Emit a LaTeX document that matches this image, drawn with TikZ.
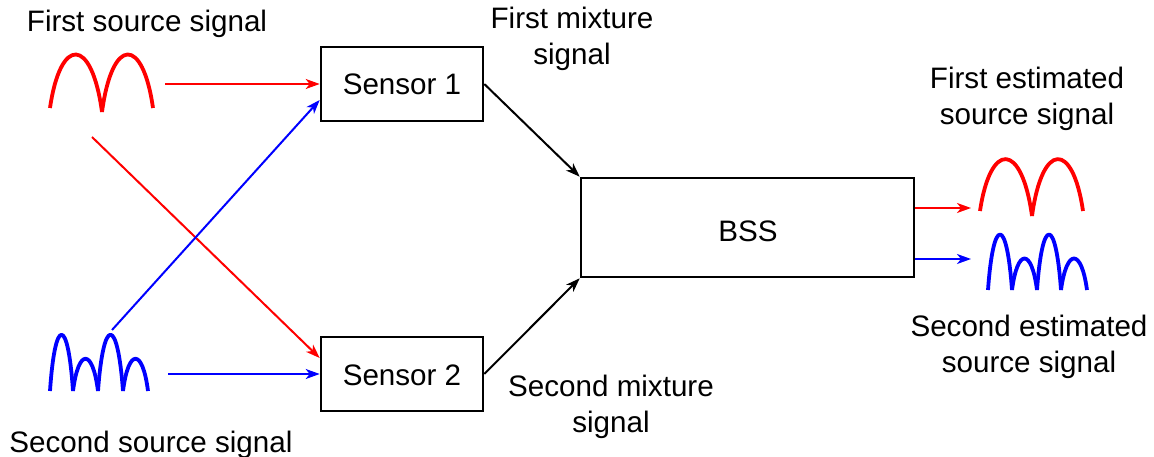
\documentclass[tikz,border=0pt]{standalone}
\usepackage{fontspec}
\setmainfont{Liberation Sans}
\usetikzlibrary{arrows.meta,positioning,calc}

\tikzset{
  block/.style={draw, line width=2.6pt, minimum width=162pt, inner sep=0pt},
  lbl/.style={font=\fontsize{29.6}{36}\selectfont, inner sep=0pt, align=center},
  sig/.style={line width=3.8pt, line join=round},
  flow/.style={->, line width=2pt},
}

\begin{document}
\begin{tikzpicture}[x=1pt, y=-1pt, >={Stealth[length=14pt,width=10pt,inset=4pt]}]
\useasboundingbox (0,0) rectangle (1154,457);

% blocks
\node[block, minimum height=74pt] (sen1) at (402,84) {};
\node[block, minimum height=74pt] (sen2) at (402,374) {};
\node[block, minimum width=333pt, minimum height=99pt] (bss) at (747.5,227.5) {};
\node[lbl, anchor=base] (t1) at (402,95) {Sensor 1};
\node[lbl, anchor=base] (t2) at (402,385) {Sensor 2};
\node[lbl, anchor=base] (t3) at (748,242) {BSS};

% labels (multi-line ones sit on their last line)
\node[lbl, anchor=base] (src1) at (147,32) {First source signal};
\node[lbl, anchor=base] (src2) at (151,452) {Second source signal};
\node[lbl, anchor=base] (mix1) at (572,65) {First mixture\\signal};
\node[lbl, anchor=base] (mix2) at (611,432) {Second mixture\\signal};
\node[lbl, anchor=base] (est1) at (1027,125) {First estimated\\source signal};
\node[lbl, anchor=base] (est2) at (1029,372) {Second estimated\\source signal};

% signal humps: x0/y0/x1/y1/control height
\foreach \a/\b/\c/\d/\h in {50/108/102/112/36, 102/112/153/108/36, 980/211/1032/216/141, 1032/216/1083/211/141}
  \draw[sig, red] (\a,\b) .. controls ({\a+0.2*(\c-\a)},\h) and ({\c-0.2*(\c-\a)},\h) .. (\c,\d);
\foreach \a/\c/\h in {50/73/316, 73/98/348, 98/123/316, 123/148/348}
  \draw[sig, blue] (\a,391) .. controls ({\a+0.22*(\c-\a)},\h) and ({\c-0.22*(\c-\a)},\h) .. (\c,391);
\foreach \a/\c/\h in {988/1012/216, 1012/1037/248, 1037/1061/216, 1061/1087/248}
  \draw[sig, blue] (\a,290) .. controls ({\a+0.22*(\c-\a)},\h) and ({\c-0.22*(\c-\a)},\h) .. (\c,290);

% arrow ends
\coordinate (rs) at (165,84);
\coordinate (rd) at (92,137);
\coordinate (bs) at (168,374);
\coordinate (bd) at (112,330);
\coordinate (o1) at (971,208);
\coordinate (o2) at (971,259);

\draw[flow, red] (rs) -- (rs -| sen1.west);
\draw[flow, red] (rd) -- (sen2.169);
\draw[flow, blue] (bs) -- (bs -| sen2.west);
\draw[flow, blue] (bd) -- (sen1.191);
\draw[flow] (sen1.east) -- (bss.north west);
\draw[flow] (sen2.east) -- (bss.south west);
\draw[flow, red] (o1 -| bss.east) -- (o1);
\draw[flow, blue] (o2 -| bss.east) -- (o2);
\end{tikzpicture}
\end{document}
